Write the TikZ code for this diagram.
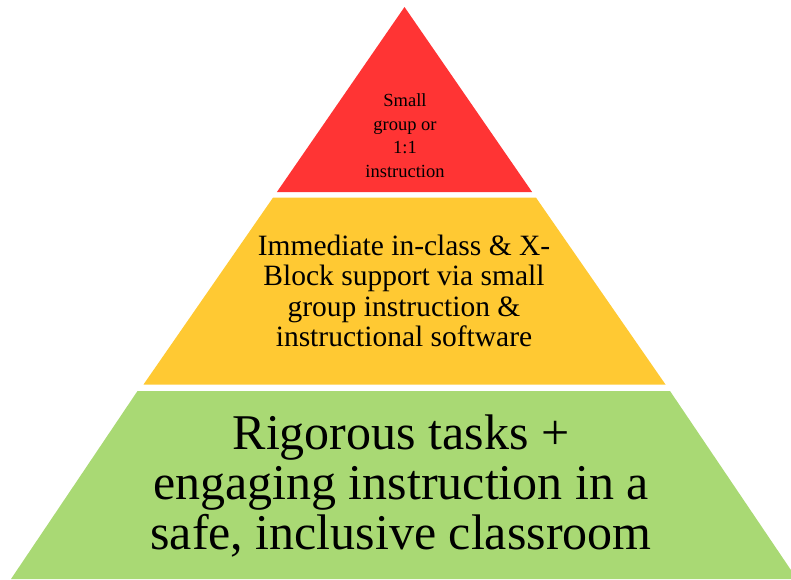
\documentclass[tikz,border=0pt]{standalone}
\usepackage{fontspec}
\setmainfont{Liberation Serif}
\definecolor{tierred}{HTML}{FF3434}
\definecolor{tieryellow}{HTML}{FFC933}
\definecolor{tiergreen}{HTML}{A9D974}
\tikzset{
  tiertext/.style={align=center, inner sep=0pt, text=black},
}
\begin{document}
\begin{tikzpicture}[x=1pt,y=-1pt]
\useasboundingbox (0,0) rectangle (791,579);
\clip (0,0) rectangle (791,579);
% tiers
\fill[tierred] (404.5,7) -- (276.9,192) -- (532.1,192) -- cycle;
\fill[tieryellow] (273.1,197.5) -- (535.9,197.5) -- (665.5,384.5) -- (143.5,384.5) -- cycle;
\fill[tiergreen] (137.5,391) -- (670,391) -- (797,579) -- (11,579) -- cycle;
% labels
\node[tiertext, font=\fontsize{18.5}{23.5}\selectfont] (top) at (405,135.5)
  {Small\\group or\\1:1\\instruction};
\node[tiertext, font=\fontsize{29.5}{30.5}\selectfont] (mid) at (404,291)
  {Immediate in-class \& X-\\Block support via small\\group instruction \&\\instructional software};
\node[tiertext, font=\fontsize{50}{50}\selectfont] (base) at (401,486)
  {Rigorous tasks +\\engaging instruction in a\\safe, inclusive classroom};
\end{tikzpicture}
\end{document}
